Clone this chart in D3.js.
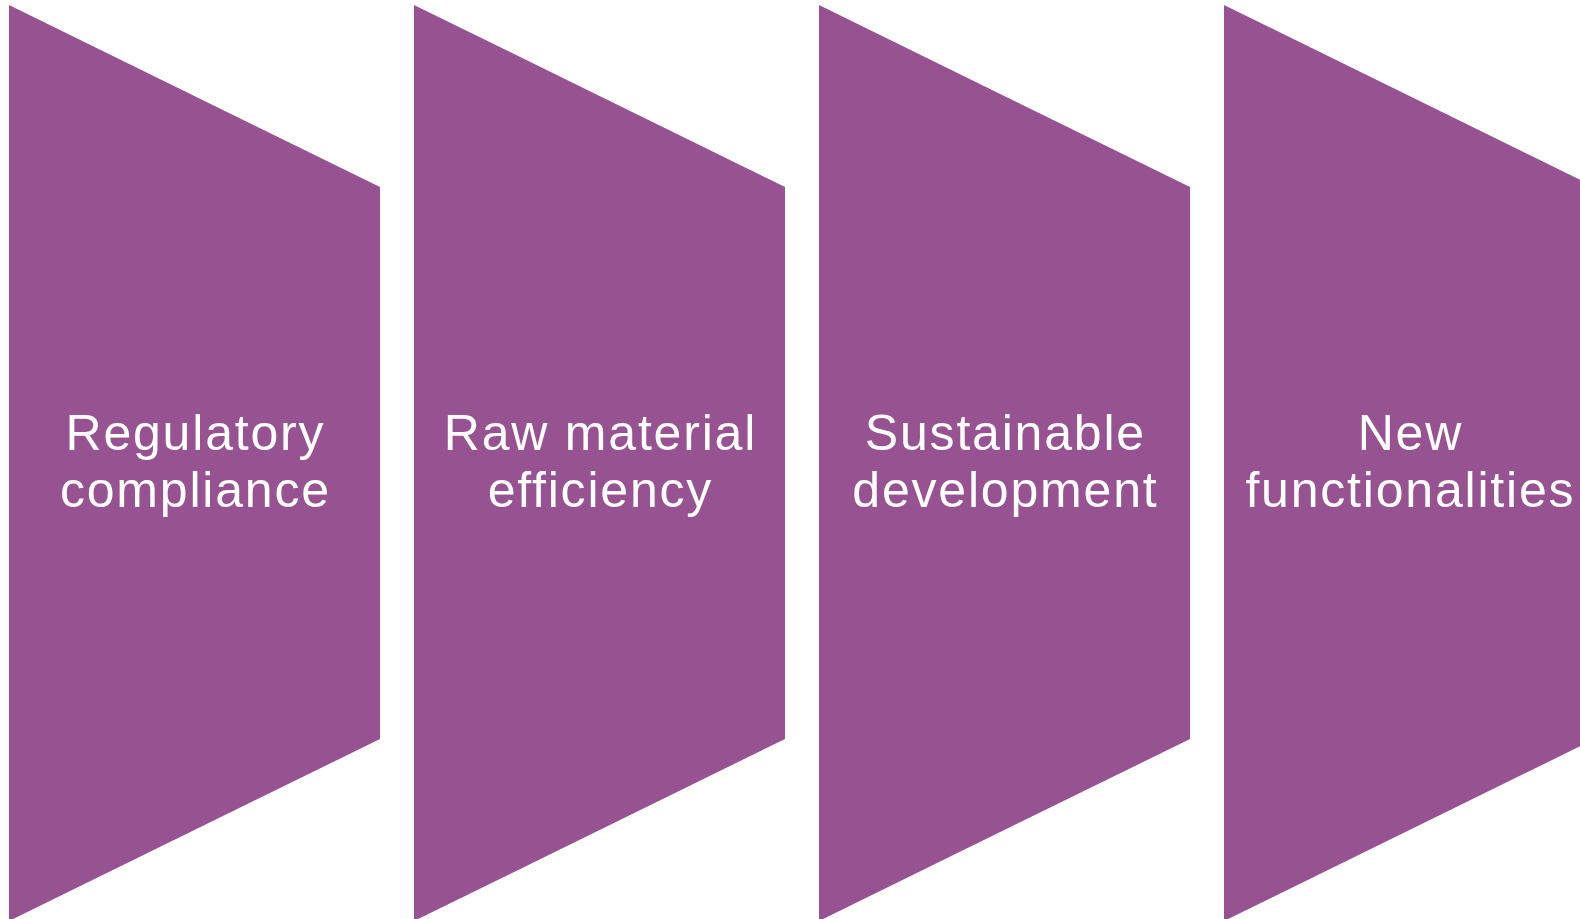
<!DOCTYPE html>
<html><head><meta charset="utf-8">
<script src="https://cdn.jsdelivr.net/npm/d3@7/dist/d3.min.js"></script>
<style>html,body{margin:0;padding:0;background:#fff;overflow:hidden}</style>
</head><body>
<script>
const categories = ["Regulatory compliance","Raw material efficiency","Sustainable development","New functionalities"];
const labelLines = [["Regulatory","compliance"],["Raw material","efficiency"],["Sustainable","development"],["New","functionalities"]];
const W = 1580, H = 919;
const svg = d3.select("body").append("svg").attr("width", W).attr("height", H);
const x = d3.scaleBand().domain(categories).range([9, 1595]).paddingInner(34/405).paddingOuter(0);
const y = d3.scaleLinear().domain([0, 1]).range([5, 921]);
const inset = 0.1987;
const fill = "#975291";
const ls = 1.8;
const g = svg.selectAll("g.step").data(categories).enter().append("g").attr("class","step");
g.append("path")
  .attr("fill", fill)
  .attr("d", d => {
    const x0 = x(d), x1 = x(d) + x.bandwidth();
    return `M${x0},${y(0)}L${x1},${y(inset)}L${x1},${y(1-inset)}L${x0},${y(1)}Z`;
  });
g.each(function(d, i) {
  const cx = x(d) + x.bandwidth()/2;
  const t = d3.select(this).append("text")
    .attr("text-anchor","middle")
    .attr("fill","#fff")
    .style("font-family","'Liberation Sans', Arial, sans-serif")
    .style("font-size","50px")
    .style("letter-spacing", ls + "px");
  labelLines[i].forEach((ln, j) => {
    t.append("tspan").attr("x", cx + ls/2).attr("y", 450 + j*57).text(ln);
  });
});
</script>
</body></html>
